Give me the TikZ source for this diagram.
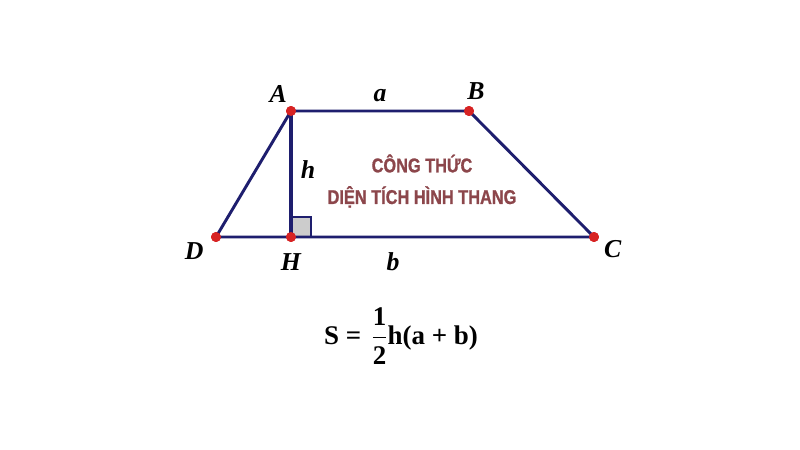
\documentclass[tikz,border=0pt]{standalone}
\usepackage{amsmath}
\usepackage{fontspec}
\setmainfont{Liberation Serif}
\setsansfont{Liberation Sans}
\newfontfamily\narrowsans[FakeStretch=0.82, BoldFeatures={FakeBold=1}]{Liberation Sans}
\usepackage{tikz}
\usetikzlibrary{positioning}
\definecolor{edgeblue}{RGB}{30,30,110}
\definecolor{pointred}{RGB}{215,35,35}
\definecolor{titlebrown}{RGB}{140,70,75}
\tikzstyle{side} = [draw, color=edgeblue, line width=2.5pt, line join=round]
\tikzstyle{vertex} = [circle, fill=pointred, inner sep=0pt, minimum size=8.5pt]
\tikzstyle{vname} = [font=\fontsize{22}{24}\selectfont\bfseries\itshape, text=black]
\tikzstyle{title} = [font=\narrowsans\bfseries\fontsize{17}{27}\selectfont, text=titlebrown, align=center]
\tikzstyle{formula} = [font=\fontsize{23}{26}\selectfont\bfseries, text=black]
\newcommand{\vertex}[2]{node (#1) [vertex] {}}

\begin{document}
\begin{tikzpicture}[x=0.03cm,y=-0.03cm]
\useasboundingbox[fill=white] (0,0) rectangle (800,450);
% the four corners and the foot of the height
\path (291,111) \vertex{A}{};
\path (469,111) \vertex{B}{};
\path (594,237) \vertex{C}{};
\path (216,237) \vertex{D}{};
\path (291,237) \vertex{H}{};
% right angle mark
\path[fill=black!20, draw=edgeblue, line width=1.6pt] (H.center) rectangle ++(20,-20);
\path [side] (A.center) -- (B.center) -- (C.center) -- (D.center) -- cycle;
\path [side, line width=3pt] (A.center) -- (H.center);
\path (A) node [vertex] {};
\path (B) node [vertex] {};
\path (C) node [vertex] {};
\path (D) node [vertex] {};
\path (H) node [vertex] {};
% letters
\node [vname, above=-1pt of A, xshift=-11pt] {A};
\node [vname, above=2pt of B, xshift=6pt] {B};
\node [vname, below right=-4pt and 2pt of C] {C};
\node [vname, below left=-2pt and 4pt of D] {D};
\node [vname, below=6pt of H] {H};
\node [vname] at (380,96) {a};
\node [vname] at (393,262) {b};
\node [vname] at (308,170) {h};
% title inside the trapezium
\node [title] at (422,181) {CÔNG THỨC\\DIỆN TÍCH HÌNH THANG};
% area formula
\node [formula] at (401,336) {S = \hspace{3pt}$\dfrac{\text{\bfseries 1}}{\text{\bfseries 2}}$h(a + b)};
\end{tikzpicture}
\end{document}
